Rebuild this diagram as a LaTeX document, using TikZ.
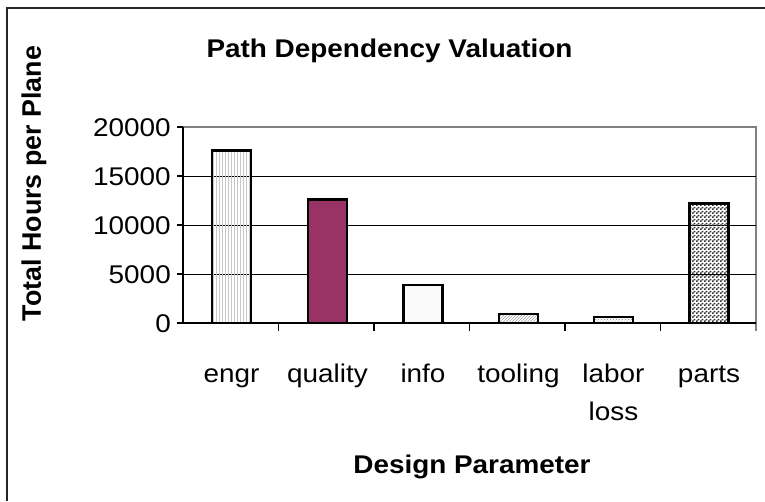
\documentclass[tikz,border=0pt]{standalone}
\usepackage{fontspec}
\setmainfont{Liberation Sans}
\usetikzlibrary{patterns}
\definecolor{barmaroon}{HTML}{993366}
\definecolor{frameGrey}{HTML}{808080}
% small two-point checkerboard fill
\pgfdeclarepatternformonly{finechecker}{\pgfpointorigin}{\pgfqpoint{4pt}{4pt}}{\pgfqpoint{4pt}{4pt}}{%
  \pgfpathrectangle{\pgfpointorigin}{\pgfqpoint{2pt}{2pt}}%
  \pgfpathrectangle{\pgfqpoint{2pt}{2pt}}{\pgfqpoint{2pt}{2pt}}%
  \pgfusepath{fill}}
\tikzset{
  lbl/.style={font=\fontsize{25.6}{30}\selectfont, inner sep=0pt, xscale=1.09},
  boldlbl/.style={font=\fontsize{25.6}{30}\selectfont\bfseries, inner sep=0pt, xscale=1.09},
  bar/.style={draw=black, line width=2.4pt},
  grid line/.style={draw=black, line width=1pt},
  axis line/.style={draw=black, line width=1.3pt},
  plot frame/.style={draw=frameGrey, line width=2pt},
}
\begin{document}
\begin{tikzpicture}[x=1pt, y=-1pt]
  \useasboundingbox (0,0) rectangle (765,501);
  % outer chart frame (continues past the right and bottom edges)
  \draw[line width=2pt, black!85] (7,501) -- (7,8) -- (765,8);

  % plot area border (top and right in grey)
  \draw[plot frame] (183,127) -- (756,127) -- (756,331);

  % horizontal gridlines
  \foreach \yy in {176,225,274} \draw[grid line] (183,\yy) -- (756,\yy);

  % bars: value given in hundreds of hours, 100 h = 0.98 units
  \newcommand{\chartbar}[3]{\path[bar,#3] ({#1-19.5},323) rectangle ({#1+19.5},{323-0.98*#2});}
  \chartbar{231.5}{176}{pattern=vertical lines, pattern color=gray!45}
  \chartbar{327.5}{126}{fill=barmaroon}
  \chartbar{423}{39}{fill=gray!4}
  \chartbar{518.5}{9}{pattern=north east lines, pattern color=gray!70}
  \chartbar{613.5}{6}{pattern=crosshatch dots, pattern color=gray!95}
  \chartbar{709}{122}{pattern=finechecker, pattern color=black!80}

  % axes
  \draw[axis line] (183,127) -- (183,323) -- (756,323);
  \foreach \yy in {127,176,225,274,323} \draw[axis line] (177,\yy) -- (183,\yy);
  \foreach \xx in {278.5,374,469.5,565,660.5} \draw[axis line] (\xx,323) -- (\xx,331);

  % y tick labels
  \node[lbl, anchor=base east] (t20) at (171,136.5) {20000};
  \node[lbl, anchor=base east] (t15) at (171,185.5) {15000};
  \node[lbl, anchor=base east] (t10) at (171,234.5) {10000};
  \node[lbl, anchor=base east] (t5)  at (171,283.5) {5000};
  \node[lbl, anchor=base east] (t0)  at (171,332.5) {0};

  % category labels
  \node[lbl, anchor=base] (cEngr) at (231.5,382) {engr};
  \node[lbl, anchor=base] (cQual) at (327.5,382) {quality};
  \node[lbl, anchor=base] (cInfo) at (423,382) {info};
  \node[lbl, anchor=base] (cTool) at (518.5,382) {tooling};
  \node[lbl, anchor=base] (cLabor) at (613.5,382) {labor};
  \node[lbl, anchor=base] (cLoss) at (613.5,420) {loss};
  \node[lbl, anchor=base] (cParts) at (709,382) {parts};

  % titles
  \node[boldlbl, anchor=base] (title) at (389.5,57) {Path Dependency Valuation};
  \node[boldlbl, anchor=base] (xlabel) at (472,473) {Design Parameter};
  \node[font=\fontsize{26.8}{30}\selectfont\bfseries, inner sep=0pt, rotate=90] (ylabel) at (34,183.5) {Total Hours per Plane};
\end{tikzpicture}
\end{document}
